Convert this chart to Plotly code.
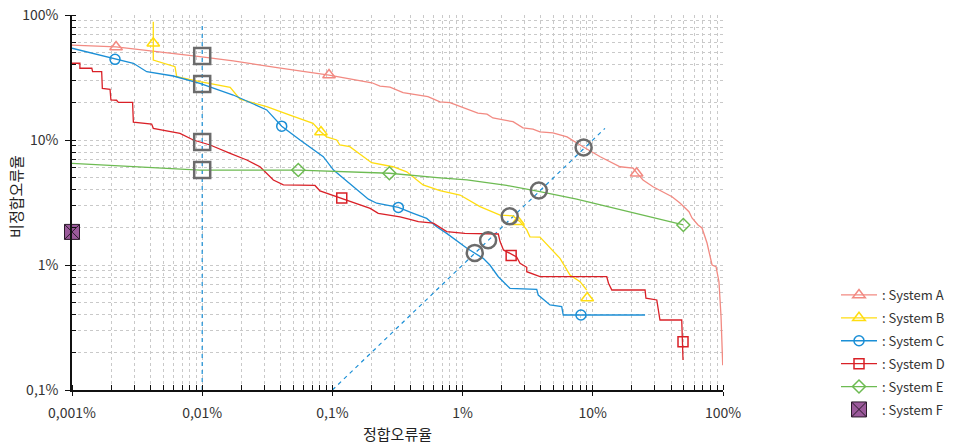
import plotly.graph_objects as go

# Error rates in percent: x = 정합오류율, y = 비정합오류율
A_x = [0.001, 0.00218, 0.0096, 0.0173, 0.0376, 0.0564, 0.0942, 0.201, 0.232, 0.277, 0.349, 0.542, 0.670, 0.800,
       1.31, 1.54, 1.71, 2.44, 2.91, 3.47, 3.93, 4.94, 6.34, 8.41, 11.4, 16.2, 20.4, 21.8, 24.3, 29.0, 40.6, 46.7,
       54.8, 57.8, 64.3, 69.0, 75.4, 82.4, 88.4, 93.1, 96.6, 99.5]
A_y = [57.5, 55.5, 46.4, 42.9, 37.9, 35.8, 33.1, 28.7, 27.0, 26.5, 23.9, 22.2, 20.2, 19.9, 16.4, 16.1, 15.0, 14.0,
       12.5, 12.2, 11.6, 11.4, 10.6, 8.84, 7.35, 6.11, 5.97, 5.45, 4.79, 4.23, 3.52, 3.13, 2.67, 2.38, 2.09, 1.98,
       1.50, 1.00, 0.969, 0.735, 0.386, 0.158]
A_mx = [0.00218, 0.0942, 21.7]
A_my = [55.5, 33.1, 5.42]

B_x = [0.00421, 0.00421, 0.00618, 0.00637, 0.0096, 0.0164, 0.0195, 0.0313, 0.0472, 0.0638, 0.0710, 0.0817, 0.0903,
       0.108, 0.114, 0.136, 0.200, 0.292, 0.372, 0.497, 0.670, 0.955, 1.36, 1.94, 2.44, 2.76, 3.11, 3.29, 3.93,
       5.60, 6.68, 7.98, 8.98]
B_y = [88.4, 43.6, 38.6, 32.1, 29.3, 26.4, 21.2, 18.5, 15.8, 14.0, 13.6, 11.6, 10.6, 10.0, 9.12, 8.84, 6.58, 6.11,
       5.57, 4.37, 3.93, 3.63, 2.93, 2.51, 2.47, 2.22, 1.91, 1.68, 1.67, 1.13, 0.832, 0.735, 0.631]
B_mx = [0.00421, 0.0817, 2.66, 9.06]
B_my = [59.4, 11.6, 2.22, 0.545]

C_x = [0.001, 0.00214, 0.00296, 0.00375, 0.00600, 0.0096, 0.0173, 0.0313, 0.0408, 0.0564, 0.0851, 0.102, 0.136,
       0.189, 0.219, 0.321, 0.418, 0.530, 0.632, 0.755, 1.08, 1.44, 1.62, 1.88, 2.31, 3.71, 3.81, 4.69, 5.77, 5.93,
       8.11, 25.2]
C_y = [54.2, 44.2, 41.1, 35.2, 32.5, 28.4, 22.9, 17.4, 12.9, 10.0, 7.35, 5.75, 4.50, 3.36, 3.12, 2.89, 2.59, 2.36,
       2.02, 1.79, 1.36, 1.13, 1.0, 0.806, 0.651, 0.639, 0.575, 0.479, 0.464, 0.398, 0.398, 0.398]
C_mx = [0.00214, 0.0408, 0.321, 8.11]
C_my = [44.2, 12.9, 2.89, 0.398]

D_x = [0.001, 0.00115, 0.00115, 0.00142, 0.00144, 0.00169, 0.00171, 0.00196, 0.00199, 0.00220, 0.00227, 0.00292,
       0.00296, 0.00409, 0.00421, 0.00675, 0.00855, 0.0115, 0.0164, 0.0220, 0.0278, 0.0352, 0.0420, 0.0735, 0.0803,
       0.108, 0.136, 0.195, 0.225, 0.331, 0.394, 0.457, 0.596, 0.755, 1.04, 1.88, 1.94, 2.06, 2.60, 2.76, 3.11,
       3.11, 3.93, 12.8, 13.2, 14.0, 25.2, 25.6, 31.0, 31.9, 32.8, 48.2, 49.3]
D_y = [41.1, 41.1, 37.5, 37.5, 35.2, 35.2, 25.9, 25.4, 20.9, 20.8, 20.0, 20.0, 13.9, 13.4, 12.4, 11.3, 10.0, 9.12,
       7.83, 6.92, 6.11, 4.79, 4.37, 4.33, 3.91, 3.52, 3.21, 2.84, 2.59, 2.43, 2.32, 2.22, 2.16, 1.85, 1.79, 1.77,
       1.54, 1.32, 1.16, 1.03, 0.959, 0.884, 0.806, 0.806, 0.714, 0.631, 0.631, 0.542, 0.525, 0.437, 0.363, 0.363,
       0.174]
D_mx = [0.118, 2.36, 49.3]
D_my = [3.44, 1.19, 0.243]

E_x = [0.001, 0.0096, 0.0547, 0.274, 0.670, 1.08, 2.18, 3.93, 7.52, 49.6]
E_y = [6.51, 5.75, 5.75, 5.42, 4.97, 4.79, 4.33, 3.87, 3.36, 2.09]
E_mx = [0.0547, 0.274, 49.6]
E_my = [5.75, 5.42, 2.09]

F_x = [0.001]
F_y = [1.84]

# Reference lines: equal error line and fixed 0.01% operating line
EER_x = [0.1, 12.4]
EER_y = [0.1, 12.4]
OP_x = [0.01, 0.01]
OP_y = [0.1, 83.0]

# Highlighted operating points
OPPT_x = [0.01, 0.01, 0.01, 0.01]
OPPT_y = [47.0, 28.1, 9.64, 5.75]
EERPT_x = [8.5, 3.85, 2.3, 1.57, 1.24]
EERPT_y = [8.7, 3.95, 2.45, 1.58, 1.25]

X_TICKS = [0.001, 0.01, 0.1, 1, 10, 100]
X_LABELS = ["0,001%", "0,01%", "0,1%", "1%", "10%", "100%"]
Y_TICKS = [0.1, 1, 10, 100]
Y_LABELS = ["0,1%", "1%", "10%", "100%"]

FONT = "Noto Sans CJK KR"
BLUE_REF = "#1B8FD6"
GRAY = "#6B6B6B"

series = [
    ("System A", A_x, A_y, A_mx, A_my, "#F28A82", "triangle-up-open", 11),
    ("System B", B_x, B_y, B_mx, B_my, "#FFDD10", "triangle-up-open", 11),
    ("System C", C_x, C_y, C_mx, C_my, "#1B8FD6", "circle-open", 10),
    ("System D", D_x, D_y, D_mx, D_my, "#D92027", "square-open", 10),
    ("System E", E_x, E_y, E_mx, E_my, "#6DBB52", "diamond-open", 10),
]

fig = go.Figure()

# dashed reference lines
fig.add_trace(go.Scatter(x=EER_x, y=EER_y, mode="lines", showlegend=False, hoverinfo="skip",
                         line=dict(color=BLUE_REF, width=1.2, dash="4px,4px")))
fig.add_trace(go.Scatter(x=OP_x, y=OP_y, mode="lines", showlegend=False, hoverinfo="skip",
                         line=dict(color=BLUE_REF, width=1.2, dash="4px,4px")))

for i, (name, xs, ys, mx, my, col, sym, sz) in enumerate(series):
    fig.add_trace(go.Scatter(x=xs, y=ys, mode="lines", showlegend=False,
                             line=dict(color=col, width=1.3)))
    fig.add_trace(go.Scatter(x=mx, y=my, mode="markers", showlegend=False, cliponaxis=False,
                             marker=dict(symbol=sym, size=sz, color=col, line=dict(color=col, width=1.5))))
    fig.add_trace(go.Scatter(x=[None], y=[None], mode="lines+markers", name=": " + name,
                             legendgroup=name,
                             line=dict(color=col, width=1.3),
                             marker=dict(symbol=sym, size=sz, color=col, line=dict(color=col, width=1.5))))

fig.add_trace(go.Scatter(x=F_x, y=F_y, mode="markers", name=": System F", legendgroup="System F",
                         cliponaxis=False,
                         marker=dict(symbol="square-x", size=15, color="#9B5A9B",
                                     line=dict(color="#2A1A2A", width=1))))

# gray highlight markers
fig.add_trace(go.Scatter(x=OPPT_x, y=OPPT_y, mode="markers", showlegend=False, cliponaxis=False,
                         marker=dict(symbol="square-open", size=16, color=GRAY, line=dict(color=GRAY, width=2.5))))
fig.add_trace(go.Scatter(x=EERPT_x, y=EERPT_y, mode="markers", showlegend=False, cliponaxis=False,
                         marker=dict(symbol="circle-open", size=16, color=GRAY, line=dict(color=GRAY, width=2.5))))

grid = dict(gridcolor="#C9C9C9", griddash="dot", gridwidth=1)

fig.update_xaxes(type="log", range=[-3, 2], tickmode="array", tickvals=X_TICKS, ticktext=X_LABELS,
                 showline=True, linecolor="#111111", linewidth=1.5, ticks="outside", ticklen=4,
                 tickcolor="#111111", tickfont=dict(family=FONT, size=14, color="#333333"),
                 ticklabelstandoff=5, showgrid=True, zeroline=False, automargin=False,
                 minor=dict(ticks="inside", ticklen=5, tickcolor="#111111", showgrid=True, dtick="D1", **grid),
                 title=dict(text="정합오류율", font=dict(family=FONT, size=15, color="#222222"), standoff=9),
                 **grid)
fig.update_yaxes(type="log", range=[-1, 2], tickmode="array", tickvals=Y_TICKS, ticktext=Y_LABELS,
                 showline=True, linecolor="#111111", linewidth=1.5, ticks="outside", ticklen=5,
                 tickcolor="#111111", tickfont=dict(family=FONT, size=14, color="#333333"),
                 ticklabelstandoff=4, showgrid=True, zeroline=False, automargin=False,
                 minor=dict(ticks="inside", ticklen=4, tickcolor="#111111", showgrid=True, dtick="D1", **grid),
                 **grid)

fig.update_layout(
    width=954, height=444,
    margin=dict(l=72, r=231, t=15, b=54, autoexpand=False),
    paper_bgcolor="white", plot_bgcolor="white",
    font=dict(family=FONT, color="#333333"),
    legend=dict(x=836 / 954, y=1 - 280 / 444, xref="container", yref="container",
                xanchor="left", yanchor="top",
                font=dict(family=FONT, size=13, color="#333333"),
                tracegroupgap=3, itemwidth=36, bgcolor="rgba(0,0,0,0)"),
    annotations=[dict(text="비정합오류율", textangle=-90, xref="paper", yref="paper",
                      x=-0.086, y=0.515, xanchor="center", yanchor="middle", showarrow=False,
                      font=dict(family=FONT, size=15, color="#222222"))],
)

fig.write_html("out.html")
